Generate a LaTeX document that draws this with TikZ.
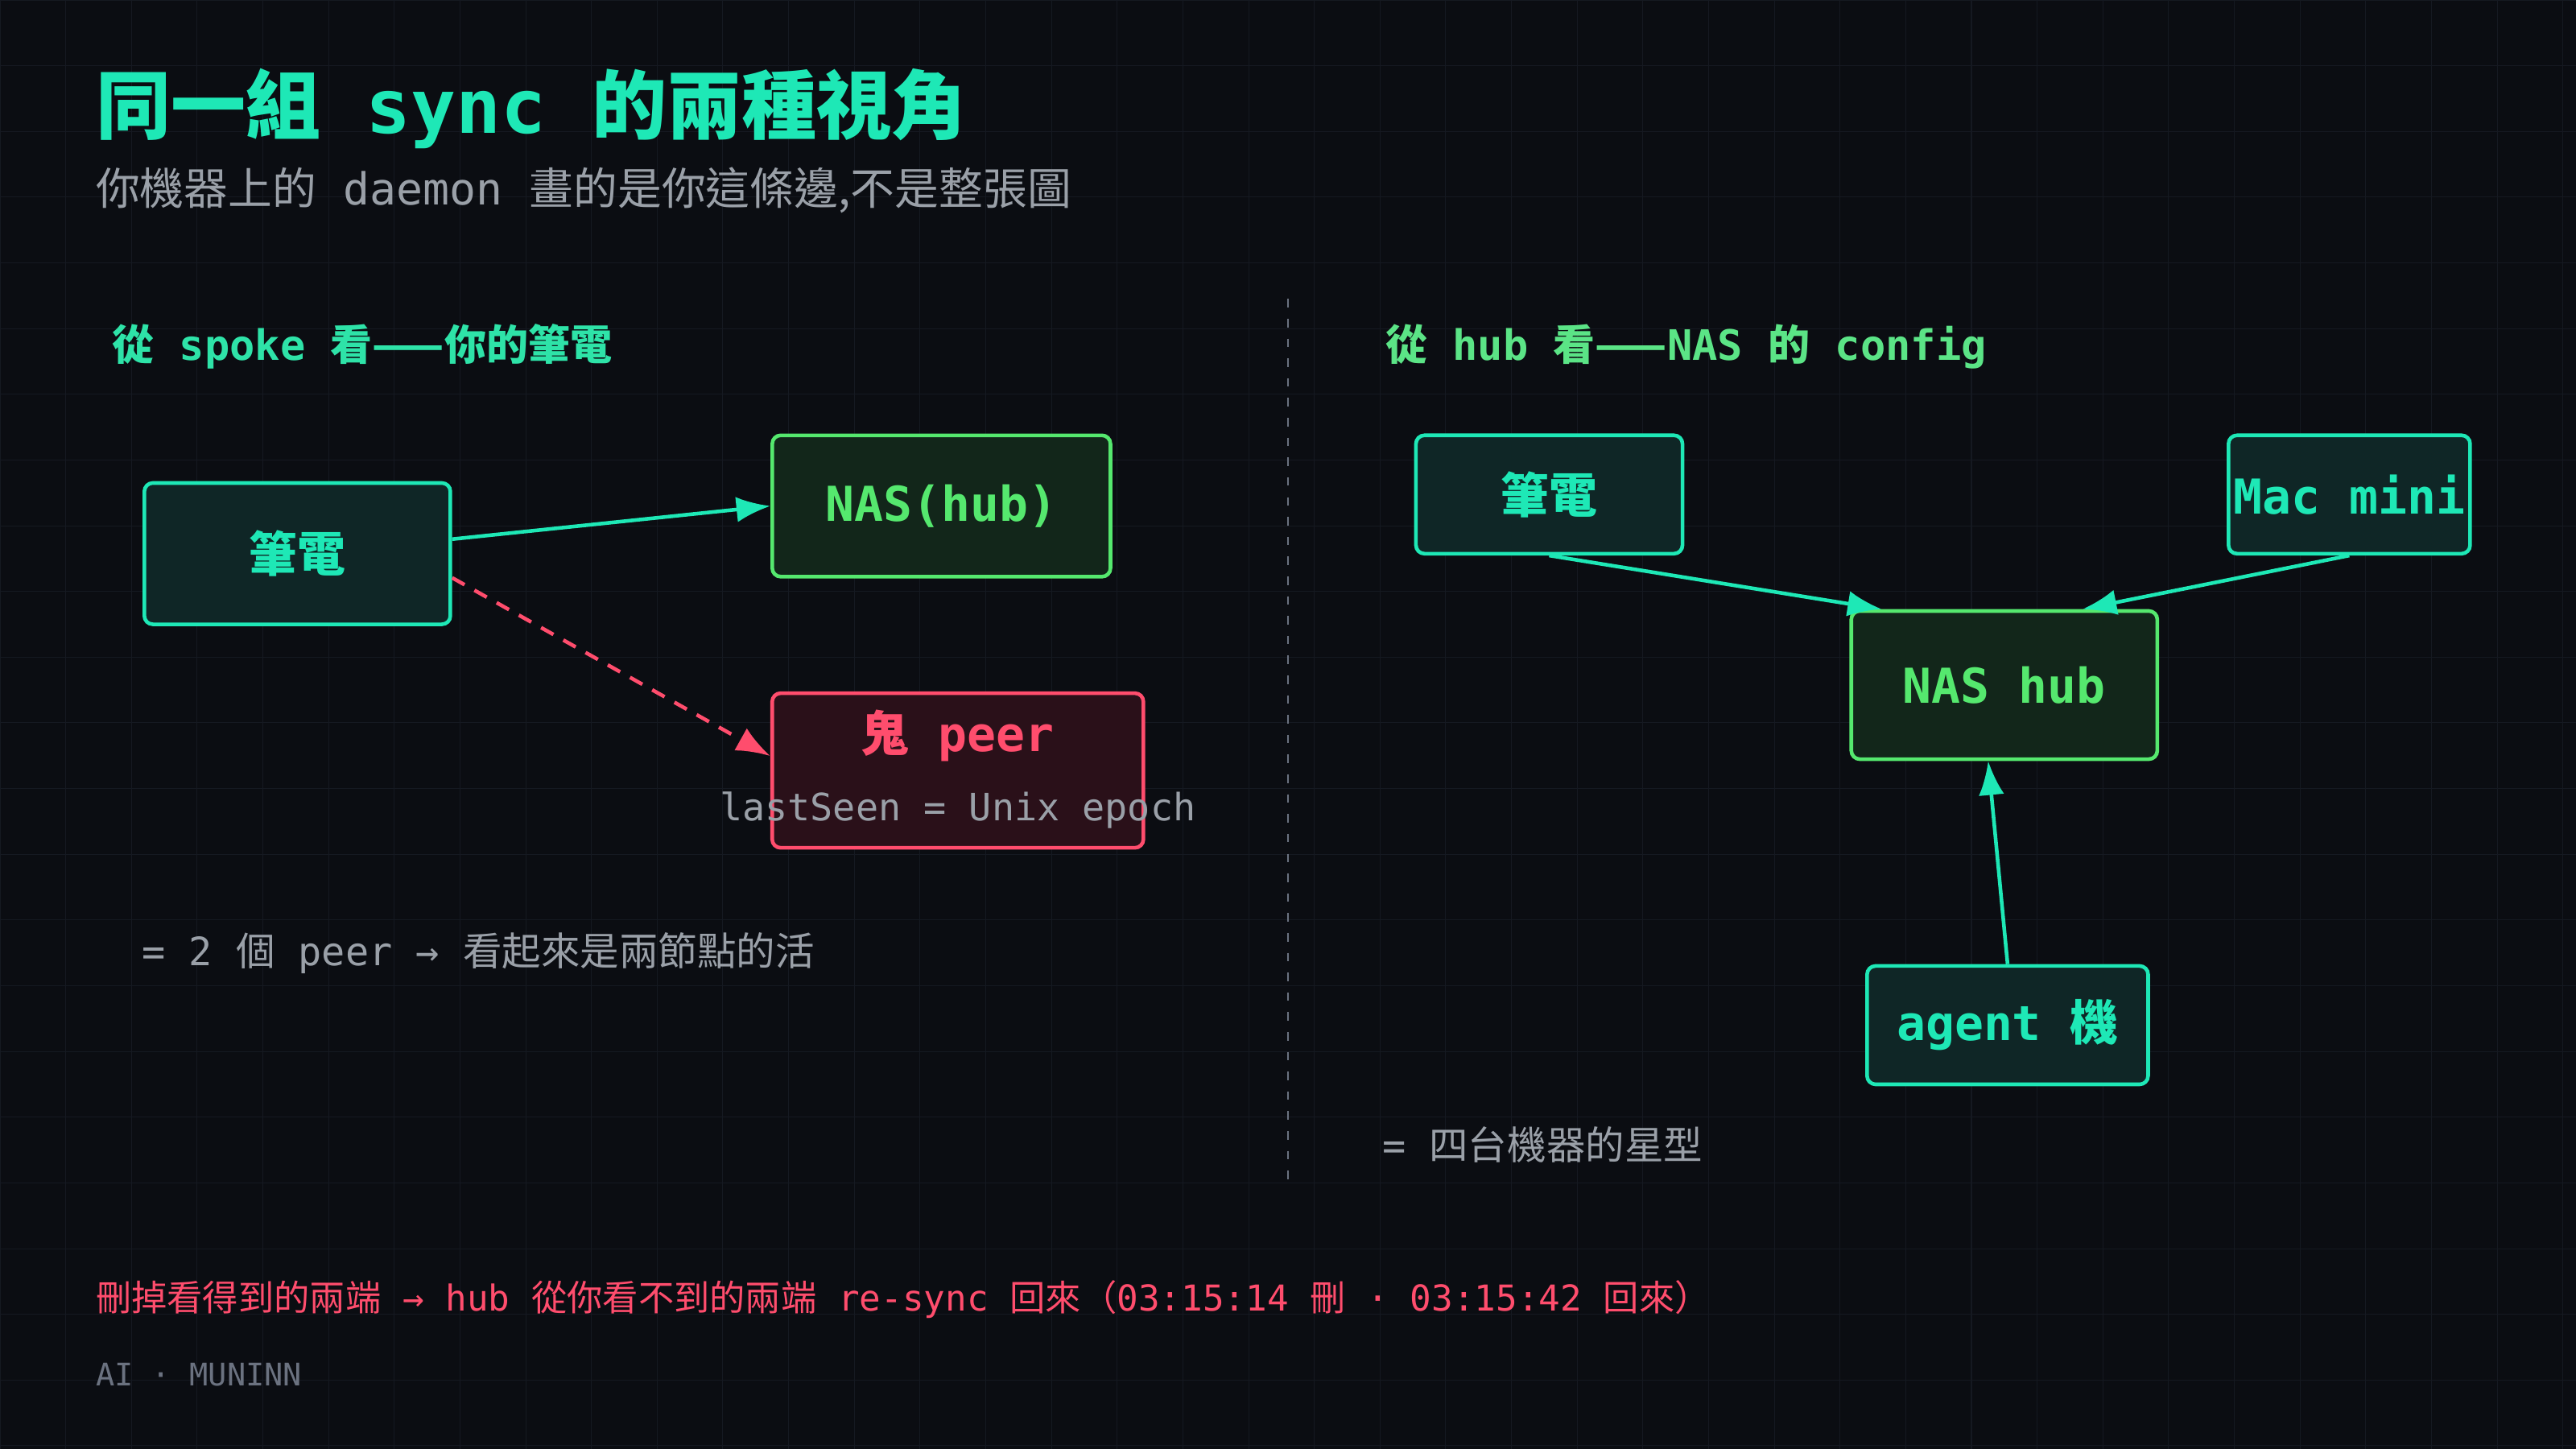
\documentclass[tikz,border=0pt]{standalone}
\usepackage{fontspec}
\setmonofont{DejaVu Sans Mono}
\newfontfamily\cjk{Noto Sans CJK TC}
\newcommand{\C}[1]{{\cjk #1}}
\usetikzlibrary{arrows.meta}
\definecolor{bg}{HTML}{0B0D12}
\definecolor{gridc}{HTML}{151921}
\definecolor{teal}{HTML}{1EE8B6}
\definecolor{tealfill}{HTML}{0F2626}
\definecolor{grn}{HTML}{55E86E}
\definecolor{grnfill}{HTML}{12261A}
\definecolor{redc}{HTML}{FF4D6D}
\definecolor{redfill}{HTML}{2A1019}
\definecolor{gry}{HTML}{9AA0A8}
\definecolor{dgry}{HTML}{6B7280}
\definecolor{head}{HTML}{2EE3A8}
\definecolor{headg}{HTML}{5BE486}
\begin{document}
\begin{tikzpicture}[x=0.020408cm,y=-0.020408cm,
  every node/.style={inner sep=0pt,font=\ttfamily},
  box/.style={rounded corners=3pt,line width=1.3pt},
  tbox/.style={box,draw=teal,fill=tealfill,text=teal,font=\ttfamily\bfseries\fontsize{17}{20}\selectfont},
  gbox/.style={box,draw=grn,fill=grnfill,text=grn,font=\ttfamily\bfseries\fontsize{17}{20}\selectfont},
  rbox/.style={box,draw=redc,fill=redfill,text=redc,font=\ttfamily\bfseries\fontsize{17}{20}\selectfont},
  arr/.style={line width=1.3pt,teal,-{Latex[length=12pt,width=9pt]}},
  lbl/.style={anchor=west,text=gry,font=\ttfamily\fontsize{13.8}{16}\selectfont}]
\fill[bg] (0,0) rectangle (1568,882);
\useasboundingbox (0,0) rectangle (1568,882);
\foreach \x in {0,40,...,1560} \draw[gridc,line width=0.3pt] (\x,0) -- (\x,882);
\foreach \y in {0,40,...,880} \draw[gridc,line width=0.3pt] (0,\y) -- (1568,\y);

\node[anchor=west,text=teal,font=\ttfamily\bfseries\fontsize{26.5}{30}\selectfont] (title) at (58,66) {\C{同一組} sync \C{的兩種視角}};
\node[anchor=west,text=gry,font=\ttfamily\fontsize{15.6}{18}\selectfont] (sub) at (58,116) {\C{你機器上的} daemon \C{畫的是你這條邊,不是整張圖}};

\node[anchor=west,text=head,font=\ttfamily\bfseries\fontsize{14.8}{18}\selectfont] (hl) at (68,211) {\C{從} spoke \C{看——你的筆電}};
\node[anchor=west,text=headg,font=\ttfamily\bfseries\fontsize{14.8}{18}\selectfont] (hr) at (843,211) {\C{從} hub \C{看——}NAS \C{的} config};

\draw[dgry,line width=0.8pt,dash pattern=on 3pt off 4pt] (784,182) coordinate (d1) -- (784,722) coordinate (d2);

% left
\node[tbox,minimum width=3.80cm,minimum height=1.755cm] (lap) at (181,337) {\C{筆電}};
\node[gbox,minimum width=4.20cm,minimum height=1.755cm] (nas) at (573,308) {NAS(hub)};
\node[rbox,minimum width=4.61cm,minimum height=1.92cm] (ghost) at (583,469) {};
\node[text=redc,font=\ttfamily\bfseries\fontsize{17}{20}\selectfont] (gt) at (583,448) {\C{鬼} peer};
\node[text=gry,font=\ttfamily\fontsize{13.3}{16}\selectfont] (gs) at (583,493) {lastSeen = Unix epoch};
\draw[arr] ([yshift=0.18cm]lap.east) -- (nas.west);
\draw[line width=1.3pt,redc,dash pattern=on 5pt off 4pt,-{Latex[length=12pt,width=9pt]}] ([yshift=-0.3cm]lap.east) -- ([yshift=0.18cm]ghost.west);
\node[lbl] (n1) at (86,580) {= 2 \C{個} peer → \C{看起來是兩節點的活}};

% right
\node[tbox,minimum width=3.31cm,minimum height=1.47cm] (lap2) at (943,301) {\C{筆電}};
\node[tbox,minimum width=3.0cm,minimum height=1.47cm] (mac) at (1430,301) {};
\node[text=teal,font=\ttfamily\bfseries\fontsize{17}{20}\selectfont] (mact) at (1430,301) {Mac mini};
\node[gbox,minimum width=3.8cm,minimum height=1.84cm] (hub) at (1220,417) {NAS hub};
\node[tbox,minimum width=3.49cm,minimum height=1.47cm] (agent) at (1222,624) {agent \C{機}};
\draw[arr] (lap2.south) -- ([xshift=0.4cm]hub.north west);
\draw[arr] (mac.south) -- ([xshift=-0.95cm]hub.north east);
\draw[arr] (agent.north) -- ([xshift=-0.2cm]hub.south);
\node[lbl] (n2) at (841,697) {= \C{四台機器的星型}};

\node[anchor=west,text=redc,font=\ttfamily\fontsize{12.6}{16}\selectfont] (bot) at (58,791) {\C{刪掉看得到的兩端} → hub \C{從你看不到的兩端} re-sync \C{回來（}03:15:14 \C{刪} · 03:15:42 \C{回來）}};
\node[anchor=west,text=dgry,font=\ttfamily\fontsize{11}{13}\selectfont] (foot) at (58,837) {AI · MUNINN};
\end{tikzpicture}
\end{document}
